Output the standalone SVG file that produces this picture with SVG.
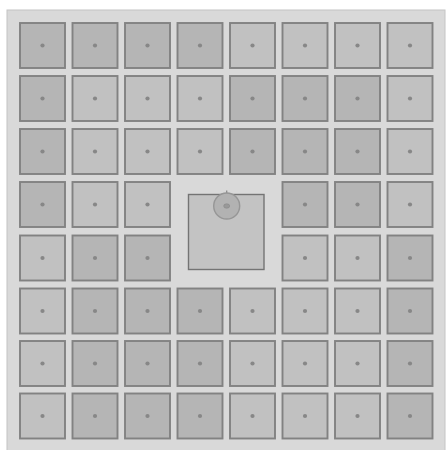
<svg xmlns="http://www.w3.org/2000/svg" width="446" height="450" viewBox="0 0 446 450">
<style>
.tile{stroke:#828282;stroke-width:1.9}
.l{fill:#c1c1c1}
.d{fill:#b5b5b5}
.dot{fill:#878787}
</style>
<defs>
<g id="dotL"><rect class="tile l" x="0" y="0" width="45" height="45"/><circle class="dot" cx="22.5" cy="22.5" r="2.1"/></g>
<g id="dotD"><rect class="tile d" x="0" y="0" width="45" height="45"/><circle class="dot" cx="22.5" cy="22.5" r="2.1"/></g>
</defs>
<rect x="0" y="0" width="446" height="450" fill="#ffffff"/>
<rect x="7" y="10" width="438" height="441" fill="#d9d9d9" stroke="#c4c4c4" stroke-width="1"/>
<g id="connectors"></g>
<g id="r0">
<g id="n0_0"><use href="#dotD" x="20" y="23"/></g>
<g id="n0_1"><use href="#dotD" x="72.5" y="23"/></g>
<g id="n0_2"><use href="#dotD" x="125" y="23"/></g>
<g id="n0_3"><use href="#dotD" x="177.5" y="23"/></g>
<g id="n0_4"><use href="#dotL" x="230" y="23"/></g>
<g id="n0_5"><use href="#dotL" x="282.5" y="23"/></g>
<g id="n0_6"><use href="#dotL" x="335" y="23"/></g>
<g id="n0_7"><use href="#dotL" x="387.5" y="23"/></g>
</g>
<g id="r1">
<g id="n1_0"><use href="#dotD" x="20" y="76"/></g>
<g id="n1_1"><use href="#dotL" x="72.5" y="76"/></g>
<g id="n1_2"><use href="#dotL" x="125" y="76"/></g>
<g id="n1_3"><use href="#dotL" x="177.5" y="76"/></g>
<g id="n1_4"><use href="#dotD" x="230" y="76"/></g>
<g id="n1_5"><use href="#dotD" x="282.5" y="76"/></g>
<g id="n1_6"><use href="#dotD" x="335" y="76"/></g>
<g id="n1_7"><use href="#dotL" x="387.5" y="76"/></g>
</g>
<g id="r2">
<g id="n2_0"><use href="#dotD" x="20" y="129"/></g>
<g id="n2_1"><use href="#dotL" x="72.5" y="129"/></g>
<g id="n2_2"><use href="#dotL" x="125" y="129"/></g>
<g id="n2_3"><use href="#dotL" x="177.5" y="129"/></g>
<g id="n2_4"><use href="#dotD" x="230" y="129"/></g>
<g id="n2_5"><use href="#dotD" x="282.5" y="129"/></g>
<g id="n2_6"><use href="#dotD" x="335" y="129"/></g>
<g id="n2_7"><use href="#dotL" x="387.5" y="129"/></g>
</g>
<g id="r3">
<g id="n3_0"><use href="#dotD" x="20" y="182"/></g>
<g id="n3_1"><use href="#dotL" x="72.5" y="182"/></g>
<g id="n3_2"><use href="#dotL" x="125" y="182"/></g>
<g id="n3_5"><use href="#dotD" x="282.5" y="182"/></g>
<g id="n3_6"><use href="#dotD" x="335" y="182"/></g>
<g id="n3_7"><use href="#dotL" x="387.5" y="182"/></g>
</g>
<g id="r4">
<g id="n4_0"><use href="#dotL" x="20" y="235.5"/></g>
<g id="n4_1"><use href="#dotD" x="72.5" y="235.5"/></g>
<g id="n4_2"><use href="#dotD" x="125" y="235.5"/></g>
<g id="n4_5"><use href="#dotL" x="282.5" y="235.5"/></g>
<g id="n4_6"><use href="#dotL" x="335" y="235.5"/></g>
<g id="n4_7"><use href="#dotD" x="387.5" y="235.5"/></g>
</g>
<g id="r5">
<g id="n5_0"><use href="#dotL" x="20" y="288.5"/></g>
<g id="n5_1"><use href="#dotD" x="72.5" y="288.5"/></g>
<g id="n5_2"><use href="#dotD" x="125" y="288.5"/></g>
<g id="n5_3"><use href="#dotD" x="177.5" y="288.5"/></g>
<g id="n5_4"><use href="#dotL" x="230" y="288.5"/></g>
<g id="n5_5"><use href="#dotL" x="282.5" y="288.5"/></g>
<g id="n5_6"><use href="#dotL" x="335" y="288.5"/></g>
<g id="n5_7"><use href="#dotD" x="387.5" y="288.5"/></g>
</g>
<g id="r6">
<g id="n6_0"><use href="#dotL" x="20" y="341"/></g>
<g id="n6_1"><use href="#dotD" x="72.5" y="341"/></g>
<g id="n6_2"><use href="#dotD" x="125" y="341"/></g>
<g id="n6_3"><use href="#dotD" x="177.5" y="341"/></g>
<g id="n6_4"><use href="#dotL" x="230" y="341"/></g>
<g id="n6_5"><use href="#dotL" x="282.5" y="341"/></g>
<g id="n6_6"><use href="#dotL" x="335" y="341"/></g>
<g id="n6_7"><use href="#dotD" x="387.5" y="341"/></g>
</g>
<g id="r7">
<g id="n7_0"><use href="#dotL" x="20" y="393.5"/></g>
<g id="n7_1"><use href="#dotD" x="72.5" y="393.5"/></g>
<g id="n7_2"><use href="#dotD" x="125" y="393.5"/></g>
<g id="n7_3"><use href="#dotD" x="177.5" y="393.5"/></g>
<g id="n7_4"><use href="#dotL" x="230" y="393.5"/></g>
<g id="n7_5"><use href="#dotL" x="282.5" y="393.5"/></g>
<g id="n7_6"><use href="#dotL" x="335" y="393.5"/></g>
<g id="n7_7"><use href="#dotD" x="387.5" y="393.5"/></g>
</g>
<g id="center">
<rect x="188.5" y="194.5" width="75.5" height="75" fill="#c3c3c3" stroke="#747474" stroke-width="1.4"/>
<line x1="226.7" y1="190.5" x2="226.7" y2="194" stroke="#8a8a8a" stroke-width="1.3"/>
<circle cx="226.7" cy="206" r="13" fill="#b2b2b2" stroke="#969696" stroke-width="1.4"/>
<ellipse cx="226.7" cy="206" rx="3" ry="2.2" fill="#999" stroke="#888" stroke-width="0.6"/>
</g>
</svg>
